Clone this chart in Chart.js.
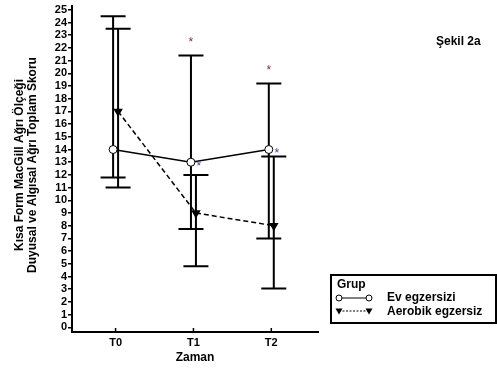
<!DOCTYPE html>
<html>
<head>
<meta charset="UTF-8" />
<style>
 body { margin: 0; background: #fff; }
 canvas { display: block; }
</style>
</head>
<body>
<canvas id="chart" width="497" height="373"></canvas>
<script src="https://cdn.jsdelivr.net/npm/chart.js@4.4.1/dist/chart.umd.min.js"></script>
<script>
// data
const categories = ['T0', 'T1', 'T2']
const evMean = [14, 13, 14]
const evLow = [11.8, 7.75, 7.0]
const evHigh = [24.5, 21.4, 19.2]
const aeMean = [17, 9, 8]
const aeLow = [11, 4.8, 3.05]
const aeHigh = [23.5, 12, 13.45]
const sigMark = [false, true, true] // asterisks at T1 and T2
const yTicks = [0, 1, 2, 3, 4, 5, 6, 7, 8, 9, 10, 11, 12, 13, 14, 15, 16, 17, 18, 19, 20, 21, 22, 23, 24, 25]

const FONT = 'Liberation Sans, Arial, sans-serif'
const shift = 0.032 // small dodge between the two groups

const toPts = (arr, dx) => arr.map((v, i) => ({ x: i + dx, y: v }))

// error bars, asterisks, axis titles, legend box
const extras = {
 id: 'extras',
 beforeDatasetsDraw(chart) {
  const ctx = chart.ctx
  const xs = chart.scales.x
  const ys = chart.scales.y
  const bars = [
   [evLow, evHigh, -shift],
   [aeLow, aeHigh, shift]
  ]
  ctx.save()
  ctx.strokeStyle = '#000'
  ctx.lineWidth = 2
  bars.forEach(([lo, hi, dx]) => {
   lo.forEach((l, i) => {
    const x = xs.getPixelForValue(i + dx)
    const y1 = ys.getPixelForValue(l)
    const y2 = ys.getPixelForValue(hi[i])
    ctx.beginPath()
    ctx.moveTo(x, y1); ctx.lineTo(x, y2)
    ctx.moveTo(x - 12.5, y1); ctx.lineTo(x + 12.5, y1)
    ctx.moveTo(x - 12.5, y2); ctx.lineTo(x + 12.5, y2)
    ctx.stroke()
   })
  })
  // inward x ticks
  ctx.lineWidth = 1.5
  categories.forEach((c, i) => {
   const x = xs.getPixelForValue(i)
   ctx.beginPath()
   ctx.moveTo(x, chart.chartArea.bottom)
   ctx.lineTo(x, chart.chartArea.bottom - 4)
   ctx.stroke()
  })
  ctx.restore()
 },
 afterDatasetsDraw(chart) {
  const ctx = chart.ctx
  const xs = chart.scales.x
  const ys = chart.scales.y
  ctx.save()
  ctx.font = '12px ' + FONT
  ctx.textAlign = 'center'
  ctx.textBaseline = 'middle'
  sigMark.forEach((s, i) => {
   if (!s) return
   const x = xs.getPixelForValue(i - shift)
   ctx.fillStyle = '#8a2a4a'
   ctx.fillText('*', x, ys.getPixelForValue(evHigh[i]) - 13)
   ctx.fillStyle = '#3a4a9a'
   ctx.fillText('*', x + 8, ys.getPixelForValue(evMean[i]) + 4)
  })

  // y axis title, two lines
  ctx.fillStyle = '#000'
  ctx.font = 'bold 12px ' + FONT
  ctx.save()
  ctx.translate(20, 165)
  ctx.rotate(-Math.PI / 2)
  ctx.fillText('Kısa Form MacGill Ağrı Ölçeği', 0, 0)
  ctx.fillText('Duyusal ve Algısal Ağrı Toplam Skoru', 0, 13)
  ctx.restore()

  // x axis title
  ctx.fillText('Zaman', (chart.chartArea.left + chart.chartArea.right) / 2, 358)

  // figure label
  ctx.textAlign = 'left'
  ctx.fillText('Şekil 2a', 436, 42)

  // legend
  ctx.lineWidth = 2
  ctx.strokeStyle = '#000'
  ctx.strokeRect(331, 275, 165, 48)
  ctx.fillText('Grup', 337, 285)
  ctx.fillText('Ev egzersizi', 387, 298)
  ctx.fillText('Aerobik egzersiz', 387, 312)
  ctx.lineWidth = 1
  ctx.beginPath()
  ctx.moveTo(339, 298); ctx.lineTo(369, 298)
  ctx.stroke()
  ctx.fillStyle = '#fff'
  ;[339, 369].forEach(x => {
   ctx.beginPath()
   ctx.arc(x, 298, 3, 0, Math.PI * 2)
   ctx.fill(); ctx.stroke()
  })
  ctx.setLineDash([2, 1.5])
  ctx.beginPath()
  ctx.moveTo(339, 311); ctx.lineTo(369, 311)
  ctx.stroke()
  ctx.setLineDash([])
  ctx.fillStyle = '#000'
  ;[339, 369].forEach(x => {
   ctx.beginPath()
   ctx.moveTo(x - 3.5, 308.5); ctx.lineTo(x + 3.5, 308.5); ctx.lineTo(x, 314.5)
   ctx.closePath(); ctx.fill()
  })
  ctx.restore()
 }
}

new Chart(document.getElementById('chart'), {
 type: 'line',
 plugins: [extras],
 data: {
  datasets: [
   {
    label: 'Ev egzersizi',
    data: toPts(evMean, -shift),
    borderColor: '#000',
    borderWidth: 1.5,
    pointStyle: 'circle',
    pointRadius: 4,
    pointBackgroundColor: '#fff',
    pointBorderColor: '#000',
    pointBorderWidth: 1,
    fill: false
   },
   {
    label: 'Aerobik egzersiz',
    data: toPts(aeMean, shift),
    borderColor: '#000',
    borderWidth: 1.5,
    borderDash: [5, 3],
    pointStyle: 'triangle',
    pointRotation: 180,
    pointRadius: 4,
    pointBackgroundColor: '#000',
    pointBorderColor: '#000',
    fill: false
   }
  ]
 },
 options: {
  responsive: false,
  animation: false,
  layout: { padding: { top: 5, right: 179, bottom: 0, left: 0 } },
  plugins: { legend: { display: false }, tooltip: { enabled: false } },
  scales: {
   x: {
    type: 'linear',
    min: -0.56,
    max: 2.6,
    afterBuildTicks: s => { s.ticks = categories.map((c, i) => ({ value: i })) },
    afterFit: s => { s.height = 41; s.paddingLeft = 0; s.paddingRight = 0 },
    grid: { display: false, drawTicks: false },
    border: { color: '#000', width: 2 },
    ticks: {
     color: '#000',
     font: { family: FONT, size: 11, weight: 'bold' },
     padding: 4,
     maxRotation: 0,
     callback: v => categories[v]
    }
   },
   y: {
    min: -0.37,
    max: 25.34,
    afterBuildTicks: s => { s.ticks = yTicks.map(v => ({ value: v })) },
    afterFit: s => { s.width = 72; s.paddingTop = 0; s.paddingBottom = 0 },
    grid: { drawOnChartArea: false, drawTicks: true, tickLength: 4, color: '#000', lineWidth: 1.5 },
    border: { color: '#000', width: 2 },
    ticks: {
     color: '#000',
     font: { family: FONT, size: 11, weight: 'bold' },
     padding: 1,
     autoSkip: false
    }
   }
  }
 }
})
</script>
</body>
</html>
